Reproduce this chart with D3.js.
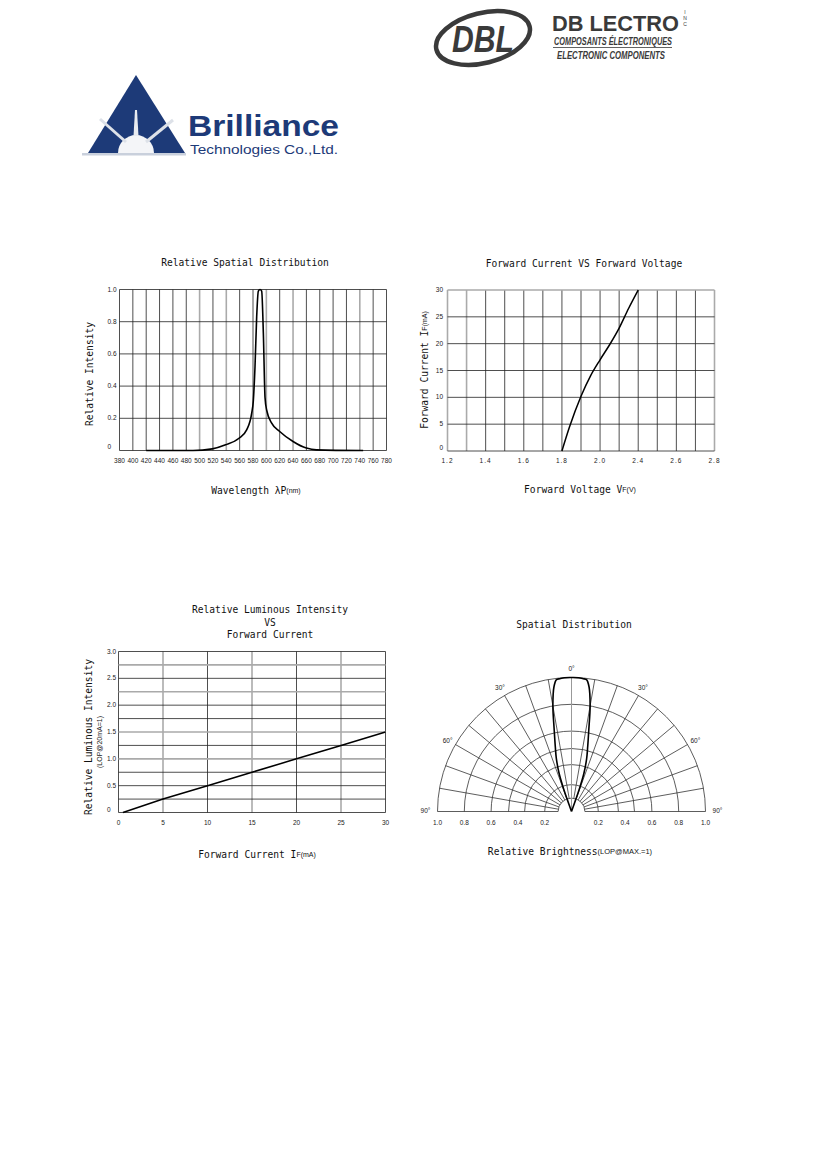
<!DOCTYPE html>
<html>
<head>
<meta charset="utf-8">
<script src="https://cdn.jsdelivr.net/npm/d3@7"></script>
<style>
  body { margin: 0; background: #fff; }
  svg { display: block; }
  .mono { font-family: "DejaVu Sans Mono", "Liberation Mono", monospace; fill: #111; }
  .tick { font-family: "Liberation Sans", Arial, sans-serif; font-size: 6.5px; fill: #222; }
</style>
</head>
<body>
<script>
// ---- data ----

// Relative Spatial Distribution (spectrum)
const wavelengthTicks = [380, 400, 420, 440, 460, 480, 500, 520, 540, 560, 580, 600, 620, 640, 660, 680, 700, 720, 740, 760, 780];
const wavelengthFaded = [500, 540, 600, 640, 740];
const relTicks = [0, 0.2, 0.4, 0.6, 0.8, 1.0];
const relTickLabels = ["0", "0.2", "0.4", "0.6", "0.8", "1.0"];
const spectrumNm = [420, 490, 519, 539, 559, 570.5, 578, 580.5, 583, 585.5, 588, 590.5, 593, 595.5, 598, 600.5, 608, 620, 640, 660, 675, 745];
const spectrumRel = [0, 0, 0.01, 0.035, 0.076, 0.128, 0.23, 0.31, 0.52, 0.83, 0.99, 1.0, 0.99, 0.73, 0.33, 0.25, 0.17, 0.118, 0.056, 0.015, 0.004, 0];

// Forward Current VS Forward Voltage
const vfGrid = [1.2, 1.3, 1.4, 1.5, 1.6, 1.7, 1.8, 1.9, 2.0, 2.1, 2.2, 2.3, 2.4, 2.5, 2.6];
const vfFaded = [1.2, 1.3, 2.6];
const vfTicks = [1.2, 1.4, 1.6, 1.8, 2.0, 2.2, 2.4, 2.6];
const vfTickLabels = ["1.2", "1.4", "1.6", "1.8", "2.0", "2.4", "2.6", "2.8"];
const ifTicks = [0, 5, 10, 15, 20, 25, 30];
const ivVolts = [1.80, 1.84, 1.90, 1.95, 2.00, 2.05, 2.10, 2.15, 2.20];
const ivCurrent = [0, 4.5, 10.2, 14, 17, 19.8, 22.9, 26.6, 30];

// Relative Luminous Intensity VS Forward Current
const lumXTicks = [0, 5, 10, 15, 20, 25, 30];
const lumXFaded = [5, 15, 25];
const lumYGrid = [0, 0.25, 0.5, 0.75, 1.0, 1.25, 1.5, 1.75, 2.0, 2.25, 2.5, 2.75, 3.0];
const lumYFaded = [1.0, 1.5, 2.25, 2.75];
const lumYTicks = [0, 0.5, 1.0, 1.5, 2.0, 2.5, 3.0];
const lumYTickLabels = ["0", "0.5", "1.0", "1.5", "2.0", "2.5", "3.0"];
const lumCurrent = [0.5, 5, 10, 15, 20, 25, 30];
const lumRel = [0, 0.25, 0.5, 0.75, 1.0, 1.25, 1.5];

// Spatial Distribution (polar)
const ringValues = [0.1, 0.2, 0.35, 0.47, 0.6, 0.8, 1.0];
const spokeAngles = [-80, -70, -60, -50, -40, -30, -20, -10, 10, 20, 30, 40, 50, 60, 70, 80];
const radialTicks = [0.2, 0.4, 0.6, 0.8, 1.0];
const radialTickLabels = ["0.2", "0.4", "0.6", "0.8", "1.0"];
const angleLabelAngles = [0, -30, 30, -60, 60, -90, 90];
const angleLabels = ["0°", "30°", "30°", "60°", "60°", "90°", "90°"];
const lobeAngles = [-20, -19.5, -19, -18, -16, -14, -12, -10, -8, -6.5, -5, -3, 0, 3, 5, 6.5, 8, 10, 12, 14, 16, 18, 19, 19.5, 20];
const lobeValues = [0, 0.1, 0.2, 0.3, 0.41, 0.5, 0.62, 0.8, 0.94, 0.99, 0.995, 1.0, 1.0, 1.0, 0.995, 0.99, 0.94, 0.8, 0.62, 0.5, 0.41, 0.3, 0.2, 0.1, 0];

const W = 826, H = 1169;
const svg = d3.select("body").append("svg").attr("width", W).attr("height", H);
svg.append("rect").attr("width", W).attr("height", H).attr("fill", "#fff");

const DARK = "#222", FADED = "#aaa";

// draws a vertical / horizontal grid with some lines lighter (scan look)
function gridV(g, xs, values, faded, y0, y1) {
    g.selectAll(null).data(values).enter().append("line")
        .attr("x1", d => xs(d)).attr("x2", d => xs(d))
        .attr("y1", y0).attr("y2", y1)
        .attr("stroke", d => faded.includes(d) ? FADED : DARK)
        .attr("stroke-width", d => faded.includes(d) ? 1.6 : 0.8);
}
function gridH(g, ys, values, faded, x0, x1) {
    g.selectAll(null).data(values).enter().append("line")
        .attr("y1", d => ys(d)).attr("y2", d => ys(d))
        .attr("x1", x0).attr("x2", x1)
        .attr("stroke", d => faded.includes(d) ? FADED : DARK)
        .attr("stroke-width", d => faded.includes(d) ? 1.6 : 0.8);
}
function monoText(x, y, str, size, anchor) {
    return svg.append("text").attr("class", "mono")
        .attr("x", x).attr("y", y)
        .attr("font-size", size || 9.6)
        .attr("text-anchor", anchor || "middle")
        .attr("dominant-baseline", "middle")
        .text(str);
}

// ---------------- logos ----------------
function drawLogos() {
    const b = svg.append("g");
    const navy = "#1d3a78";
    b.append("rect").attr("x", 82).attr("y", 153).attr("width", 104).attr("height", 2.5).attr("fill", "#c9d0dc");
    b.append("path").attr("d", "M136,75 L185,153 L88,153 Z").attr("fill", navy);
    b.append("path").attr("d", "M118,153 A18,18 0 0 1 154,153 Z").attr("fill", "#f4f5f8");
    b.append("line").attr("x1", 100).attr("y1", 119).attr("x2", 126).attr("y2", 142).attr("stroke", "#dde1e8").attr("stroke-width", 3);
    b.append("line").attr("x1", 173).attr("y1", 120).attr("x2", 146).attr("y2", 142).attr("stroke", "#dde1e8").attr("stroke-width", 3);
    b.append("path").attr("d", "M135,110 L137,110 L138.5,136 L133.5,136 Z").attr("fill", "#e8ebf0");
    b.append("text").attr("x", 188).attr("y", 136)
        .attr("font-family", "Liberation Sans, Arial, sans-serif").attr("font-weight", "bold")
        .attr("font-size", 29).attr("textLength", 151).attr("lengthAdjust", "spacingAndGlyphs")
        .attr("fill", navy).text("Brilliance");
    b.append("text").attr("x", 190).attr("y", 154)
        .attr("font-family", "Liberation Sans, Arial, sans-serif")
        .attr("font-size", 13).attr("textLength", 148).attr("lengthAdjust", "spacingAndGlyphs")
        .attr("fill", navy).text("Technologies Co.,Ltd.");

    const d = svg.append("g");
    const grey = "#3a3a3a";
    d.append("ellipse").attr("cx", 483).attr("cy", 38).attr("rx", 48).attr("ry", 25)
        .attr("transform", "rotate(-14,483,38)")
        .attr("fill", "none").attr("stroke", grey).attr("stroke-width", 4.5);
    d.append("text").attr("x", 483).attr("y", 52).attr("text-anchor", "middle")
        .attr("font-family", "Liberation Sans, Arial, sans-serif").attr("font-weight", "bold").attr("font-style", "italic")
        .attr("font-size", 36).attr("textLength", 62).attr("lengthAdjust", "spacingAndGlyphs")
        .attr("fill", grey).text("DBL");
    d.append("text").attr("x", 552).attr("y", 31)
        .attr("font-family", "Liberation Sans, Arial, sans-serif").attr("font-weight", "bold")
        .attr("font-size", 22).attr("textLength", 127).attr("lengthAdjust", "spacingAndGlyphs")
        .attr("fill", grey).text("DB LECTRO");
    ["I", "N", "C"].forEach((c, i) => {
        d.append("text").attr("x", 685).attr("y", 14 + i * 6).attr("text-anchor", "middle")
            .attr("font-family", "Liberation Sans, Arial, sans-serif").attr("font-size", 5)
            .attr("fill", grey).text(c);
    });
    d.append("text").attr("x", 554).attr("y", 45)
        .attr("font-family", "Liberation Sans, Arial, sans-serif").attr("font-weight", "bold").attr("font-style", "italic")
        .attr("font-size", 10).attr("textLength", 118).attr("lengthAdjust", "spacingAndGlyphs")
        .attr("fill", grey).text("COMPOSANTS ÉLECTRONIQUES");
    d.append("line").attr("x1", 553).attr("x2", 672).attr("y1", 47.5).attr("y2", 47.5).attr("stroke", grey).attr("stroke-width", 0.8);
    d.append("text").attr("x", 557).attr("y", 59)
        .attr("font-family", "Liberation Sans, Arial, sans-serif").attr("font-weight", "bold").attr("font-style", "italic")
        .attr("font-size", 10).attr("textLength", 108).attr("lengthAdjust", "spacingAndGlyphs")
        .attr("fill", grey).text("ELECTRONIC COMPONENTS");
}

// ---------------- chart 1: spectrum ----------------
function drawSpectrum() {
    const x0 = 119.5, x1 = 386.5, y0 = 289.5, y1 = 450.5;
    const x = d3.scaleLinear().domain([380, 780]).range([x0, x1]);
    const y = d3.scaleLinear().domain([0, 1]).range([y1, y0]);
    const g = svg.append("g");

    gridV(g, x, wavelengthTicks, wavelengthFaded, y0, y1);
    gridH(g, y, relTicks, [], x0, x1);

    g.selectAll(null).data(wavelengthTicks).enter().append("text").attr("class", "tick")
        .attr("x", d => x(d)).attr("y", 463).attr("text-anchor", "middle").text(d => d);
    g.selectAll(null).data(relTicks).enter().append("text").attr("class", "tick")
        .attr("x", 107.5).attr("y", (d, i) => y(d) + (i === 0 ? -2 : 2)).text((d, i) => relTickLabels[i]);

    const pts = spectrumNm.map((n, i) => [n, spectrumRel[i]]);
    g.append("path").datum(pts)
        .attr("d", d3.line().x(d => x(d[0])).y(d => y(d[1])).curve(d3.curveMonotoneX))
        .attr("fill", "none").attr("stroke", "#000").attr("stroke-width", 1.6);

    monoText(245, 263, "Relative Spatial Distribution");
    monoText(90, 374, "Relative Intensity").attr("transform", "rotate(-90,90,374)");
    const t = monoText(256, 491, "Wavelength ");
    t.append("tspan").attr("font-family", "DejaVu Sans, sans-serif").attr("font-size", 9.6).text("λP");
    t.append("tspan").attr("font-family", "Liberation Sans, sans-serif").attr("font-size", 7).text("(nm)");
}

// ---------------- chart 2: IV curve ----------------
function drawIV() {
    const x0 = 447.5, x1 = 714.5, y0 = 290, y1 = 451;
    const x = d3.scaleLinear().domain([1.2, 2.6]).range([x0, x1]);
    const y = d3.scaleLinear().domain([0, 30]).range([y1, y0]);
    const g = svg.append("g");

    gridV(g, x, vfGrid, vfFaded, y0, y1);
    gridH(g, y, ifTicks, [30], x0, x1);

    g.selectAll(null).data(vfTicks).enter().append("text").attr("class", "tick")
        .attr("x", d => x(d)).attr("y", 463).attr("text-anchor", "middle")
        .attr("letter-spacing", 1).text((d, i) => vfTickLabels[i]);
    g.selectAll(null).data(ifTicks).enter().append("text").attr("class", "tick")
        .attr("x", 443).attr("y", (d, i) => y(d) + (i === 0 ? -1 : 2)).attr("text-anchor", "end").text(d => d);

    const pts = ivVolts.map((v, i) => [v, ivCurrent[i]]);
    g.append("path").datum(pts)
        .attr("d", d3.line().x(d => x(d[0])).y(d => y(d[1])).curve(d3.curveMonotoneX))
        .attr("fill", "none").attr("stroke", "#000").attr("stroke-width", 1.5);

    monoText(584, 264, "Forward Current VS Forward Voltage");
    const yl = monoText(425, 370, "Forward Current I").attr("transform", "rotate(-90,425,370)");
    yl.append("tspan").attr("font-family", "Liberation Sans, sans-serif").attr("font-size", 7).text("F(mA)");
    const xl = monoText(580, 490, "Forward Voltage V");
    xl.append("tspan").attr("font-family", "Liberation Sans, sans-serif").attr("font-size", 7).text("F(V)");
}

// ---------------- chart 3: luminous intensity ----------------
function drawLuminous() {
    const x0 = 118.5, x1 = 385.5, y0 = 651.5, y1 = 812.5;
    const x = d3.scaleLinear().domain([0, 30]).range([x0, x1]);
    const y = d3.scaleLinear().domain([0, 3]).range([y1, y0]);
    const g = svg.append("g");

    gridV(g, x, lumXTicks, lumXFaded, y0, y1);
    gridH(g, y, lumYGrid, lumYFaded, x0, x1);

    g.selectAll(null).data(lumXTicks).enter().append("text").attr("class", "tick")
        .attr("x", d => x(d)).attr("y", 825).attr("text-anchor", "middle").text(d => d);
    g.selectAll(null).data(lumYTicks).enter().append("text").attr("class", "tick")
        .attr("x", 107).attr("y", (d, i) => y(d) + (i === 0 ? -1 : 2)).text((d, i) => lumYTickLabels[i]);

    const pts = lumCurrent.map((c, i) => [c, lumRel[i]]);
    g.append("path").datum(pts)
        .attr("d", d3.line().x(d => x(d[0])).y(d => y(d[1])))
        .attr("fill", "none").attr("stroke", "#000").attr("stroke-width", 1.5);

    monoText(270, 610, "Relative Luminous Intensity");
    monoText(270, 623, "VS");
    monoText(270, 635, "Forward Current");
    monoText(89, 737, "Relative Luminous Intensity").attr("transform", "rotate(-90,89,737)");
    svg.append("text").attr("x", 100).attr("y", 742).attr("text-anchor", "middle")
        .attr("dominant-baseline", "middle")
        .attr("font-family", "Liberation Sans, sans-serif").attr("font-size", 7).attr("fill", "#222")
        .attr("transform", "rotate(-90,100,742)").text("(LOP@20mA=1)");
    const xl = monoText(257, 855, "Forward Current I");
    xl.append("tspan").attr("font-family", "Liberation Sans, sans-serif").attr("font-size", 7).text("F(mA)");
}

// ---------------- chart 4: polar ----------------
function drawPolar() {
    const cx = 571.5, cy = 811.5;
    const r = d3.scaleLinear().domain([0, 1]).range([0, 134]);
    const g = svg.append("g").attr("transform", `translate(${cx},${cy})`);
    const rad = a => a * Math.PI / 180;

    g.selectAll(null).data(ringValues).enter().append("path")
        .attr("d", v => `M${-r(v)},0 A${r(v)},${r(v)} 0 0 1 ${r(v)},0`)
        .attr("fill", "none").attr("stroke", "#333").attr("stroke-width", 0.8);

    g.selectAll(null).data(spokeAngles).enter().append("line")
        .attr("x1", a => Math.sin(rad(a)) * r(ringValues[0]))
        .attr("y1", a => -Math.cos(rad(a)) * r(ringValues[0]))
        .attr("x2", a => Math.sin(rad(a)) * r(1))
        .attr("y2", a => -Math.cos(rad(a)) * r(1))
        .attr("stroke", "#333").attr("stroke-width", 0.8);

    // baseline (±90°) and the 0° axis
    g.append("line").attr("x1", -r(1)).attr("x2", -r(ringValues[0])).attr("y1", 0).attr("y2", 0).attr("stroke", "#333").attr("stroke-width", 0.8);
    g.append("line").attr("x1", r(ringValues[0])).attr("x2", r(1)).attr("y1", 0).attr("y2", 0).attr("stroke", "#333").attr("stroke-width", 0.8);
    g.append("line").attr("x1", 0).attr("x2", 0).attr("y1", 0).attr("y2", -r(1)).attr("stroke", "#999").attr("stroke-width", 1);

    const pts = lobeAngles.map((a, i) => [rad(a), r(lobeValues[i])]);
    g.append("path").datum(pts)
        .attr("d", d3.lineRadial().angle(d => d[0]).radius(d => d[1]).curve(d3.curveCatmullRom))
        .attr("fill", "none").attr("stroke", "#000").attr("stroke-width", 1.6);

    g.selectAll(null).data(radialTicks).enter().append("text").attr("class", "tick")
        .attr("x", d => -r(d)).attr("y", 13).attr("text-anchor", "middle").text((d, i) => radialTickLabels[i]);
    g.selectAll(null).data(radialTicks).enter().append("text").attr("class", "tick")
        .attr("x", d => r(d)).attr("y", 13).attr("text-anchor", "middle").text((d, i) => radialTickLabels[i]);

    g.selectAll(null).data(angleLabelAngles).enter().append("text").attr("class", "tick")
        .attr("x", a => Math.sin(rad(a)) * (Math.abs(a) === 90 ? 146 : 143))
        .attr("y", a => -Math.cos(rad(a)) * 143 + (Math.abs(a) === 90 ? 0 : 1))
        .attr("text-anchor", "middle").attr("dominant-baseline", "middle")
        .text((a, i) => angleLabels[i]);

    monoText(574, 625, "Spatial Distribution");
    const xl = monoText(570, 852, "Relative Brightness");
    xl.append("tspan").attr("font-family", "Liberation Sans, sans-serif").attr("font-size", 7.5).text("(LOP@MAX.=1)");
}

drawLogos();
drawSpectrum();
drawIV();
drawLuminous();
drawPolar();
</script>
</body>
</html>
